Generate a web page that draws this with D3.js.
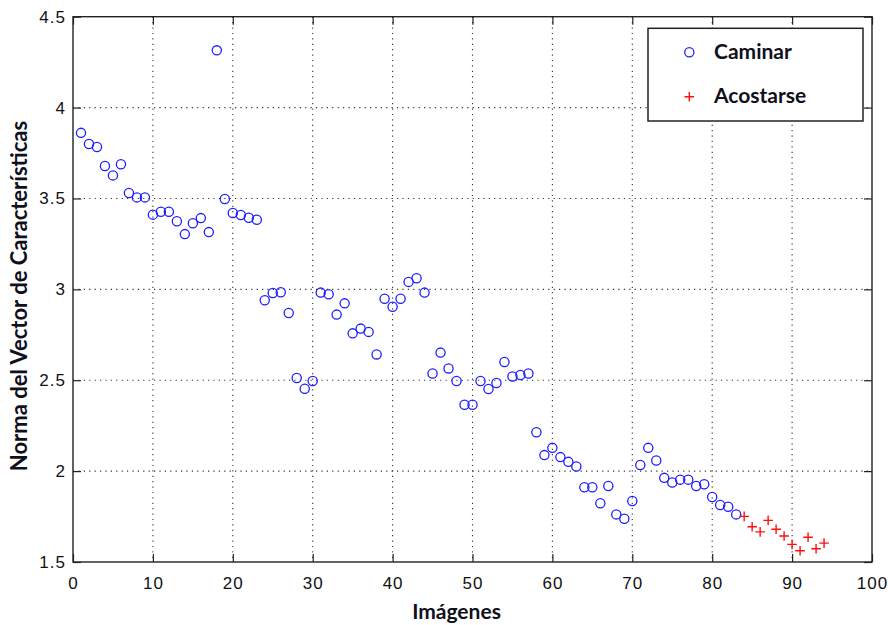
<!DOCTYPE html>
<html>
<head>
<meta charset="utf-8">
<script src="https://cdn.jsdelivr.net/npm/d3@7/dist/d3.min.js"></script>
<style>
  html, body { margin: 0; padding: 0; background: #fff; }
  svg { display: block; }
  .tick text { font-family: "Liberation Sans Narrow", "Liberation Sans", Arial, sans-serif; font-size: 17px; letter-spacing: 1px; fill: #111; }
  .lbl { font-family: Lato, "Open Sans", sans-serif; font-weight: 700; fill: #10101c; }
</style>
</head>
<body>
<svg id="chart" width="888" height="625"></svg>
<script>
// Norma del vector de características por imagen
const caminar = [
  3.861, 3.800, 3.783, 3.679, 3.627, 3.688, 3.530, 3.506, 3.506, 3.411,
  3.427, 3.427, 3.375, 3.304, 3.364, 3.392, 3.315, 4.315, 3.497, 3.420,
  3.409, 3.394, 3.383, 2.940, 2.980, 2.984, 2.870, 2.512, 2.453, 2.496,
  2.982, 2.973, 2.861, 2.923, 2.758, 2.784, 2.766, 2.642, 2.948, 2.904,
  2.948, 3.041, 3.061, 2.982, 2.537, 2.652, 2.565, 2.496, 2.365, 2.365,
  2.496, 2.452, 2.485, 2.600, 2.521, 2.529, 2.537, 2.214, 2.088, 2.128,
  2.077, 2.051, 2.025, 1.911, 1.911, 1.823, 1.918, 1.762, 1.738, 1.836,
  2.034, 2.128, 2.058, 1.963, 1.937, 1.953, 1.953, 1.918, 1.928, 1.858,
  1.814, 1.804, 1.762
];
const acostarse = [1.751, 1.694, 1.666, 1.729, 1.680, 1.643, 1.597, 1.562, 1.636, 1.573, 1.604];
const caminarIdx = caminar.map((_, i) => i + 1);
const acostarseIdx = acostarse.map((_, i) => caminar.length + i + 1);

const xTicks = [0, 10, 20, 30, 40, 50, 60, 70, 80, 90, 100];
const yTicks = [1.5, 2, 2.5, 3, 3.5, 4, 4.5];
const seriesNames = ["Caminar", "Acostarse"];
const xTitle = "Imágenes";
const yTitle = "Norma del Vector de Características";

const svg = d3.select("#chart");
const L = 73, R = 872, T = 16.7, B = 562;

const x = d3.scaleLinear().domain([0, 100]).range([L, R]);
const y = d3.scaleLinear().domain([1.5, 4.5]).range([B, T]);

// dotted grid
const grid = svg.append("g").attr("stroke", "#333").attr("stroke-width", 1.1)
  .attr("stroke-dasharray", "1.2,4.2");
grid.selectAll("line.gx").data(xTicks.slice(1, -1)).join("line")
  .attr("x1", d => x(d)).attr("x2", d => x(d)).attr("y1", T).attr("y2", B);
grid.selectAll("line.gy").data(yTicks.slice(1, -1)).join("line")
  .attr("y1", d => y(d)).attr("y2", d => y(d)).attr("x1", L).attr("x2", R);

// axes with inward ticks on all four sides
function styleAxis(g) {
  g.select(".domain").remove();
  g.selectAll(".tick line").attr("stroke", "#222").attr("stroke-width", 1.2);
}
svg.append("g").attr("transform", `translate(0,${B})`)
  .call(d3.axisBottom(x).tickValues(xTicks).tickSize(-8).tickPadding(14.8).tickFormat(d3.format("d")))
  .call(styleAxis);
svg.append("g").attr("transform", `translate(0,${T})`)
  .call(d3.axisTop(x).tickValues(xTicks).tickSize(-8).tickFormat(""))
  .call(styleAxis);
svg.append("g").attr("transform", `translate(${L},0)`)
  .call(d3.axisLeft(y).tickValues(yTicks).tickSize(-8).tickPadding(7).tickFormat(d => d3.format("")(d)))
  .call(styleAxis);
svg.append("g").attr("transform", `translate(${R},0)`)
  .call(d3.axisRight(y).tickValues(yTicks).tickSize(-8).tickFormat(""))
  .call(styleAxis);

svg.selectAll(".tick text").attr("font-size", null).attr("font-family", null);

// frame
svg.append("rect").attr("x", L).attr("y", T).attr("width", R - L).attr("height", B - T)
  .attr("fill", "none").attr("stroke", "#222").attr("stroke-width", 1.4);

// Caminar: blue circles
svg.append("g").selectAll("circle").data(caminar).join("circle")
  .attr("cx", (d, i) => x(caminarIdx[i])).attr("cy", d => y(d)).attr("r", 4.6)
  .attr("fill", "none").attr("stroke", "#1f1fff").attr("stroke-width", 1.3);

// Acostarse: red plus signs
function plusPath(cx, cy, s) {
  return `M${cx - s},${cy}H${cx + s}M${cx},${cy - s}V${cy + s}`;
}
svg.append("g").selectAll("path").data(acostarse).join("path")
  .attr("d", (d, i) => plusPath(x(acostarseIdx[i]), y(d), 4.8))
  .attr("fill", "none").attr("stroke", "#ff1010").attr("stroke-width", 1.4);

// legend
const lg = svg.append("g");
lg.append("rect").attr("x", 648).attr("y", 28.3).attr("width", 215).attr("height", 92.7)
  .attr("fill", "#fff").attr("stroke", "#222").attr("stroke-width", 1.5);
lg.append("circle").attr("cx", 689.3).attr("cy", 52.3).attr("r", 4.6)
  .attr("fill", "none").attr("stroke", "#1f1fff").attr("stroke-width", 1.3);
lg.append("path").attr("d", plusPath(689.3, 96.7, 4.8))
  .attr("fill", "none").attr("stroke", "#ff1010").attr("stroke-width", 1.4);
lg.append("text").attr("class", "lbl").attr("x", 714).attr("y", 59).attr("font-size", 21).text(seriesNames[0]);
lg.append("text").attr("class", "lbl").attr("x", 714).attr("y", 102.7).attr("font-size", 21).text(seriesNames[1]);

// axis titles
svg.append("text").attr("class", "lbl").attr("x", 456.5).attr("y", 619)
  .attr("text-anchor", "middle").attr("font-size", 21).text(xTitle);
svg.append("text").attr("class", "lbl")
  .attr("transform", "translate(27,296) rotate(-90)")
  .attr("text-anchor", "middle").attr("font-size", 22).text(yTitle);
</script>
</body>
</html>
